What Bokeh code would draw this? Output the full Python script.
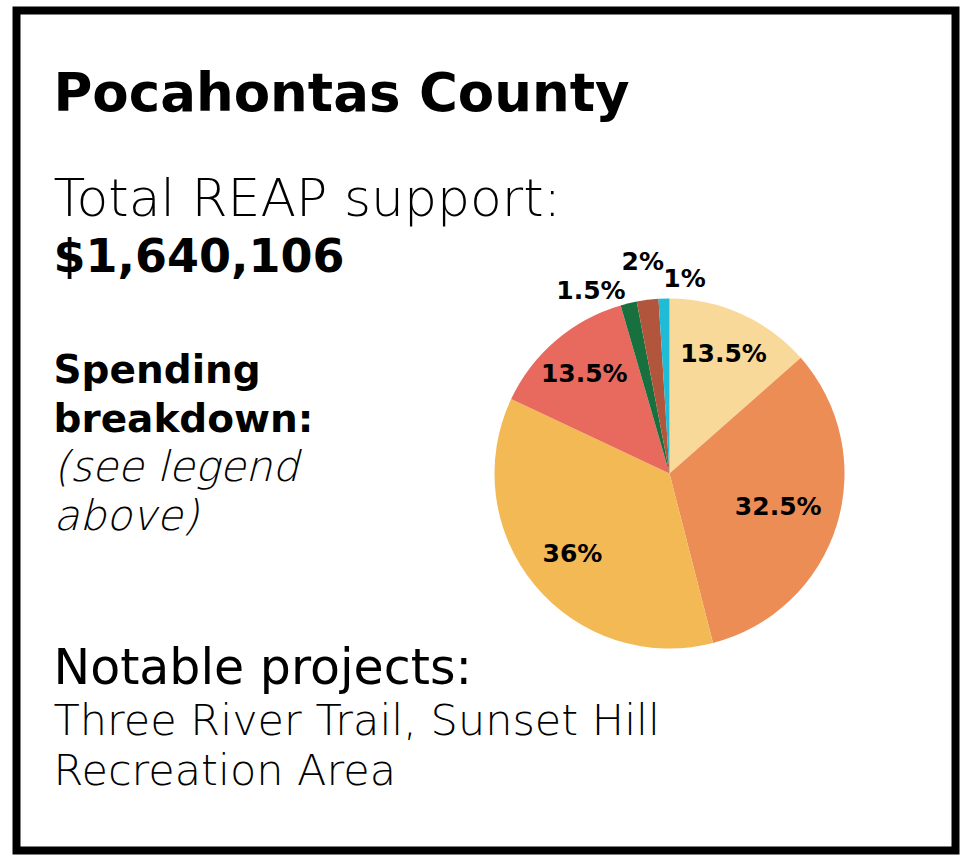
import math
from bokeh.plotting import figure
from bokeh.models import Range1d, ColumnDataSource
from bokeh.core.properties import value
from bokeh.embed import file_html
from bokeh.resources import INLINE

# ---- data ----
county = "Pocahontas County"
total_label = "Total REAP support:"
total_value = "$1,640,106"
slice_pct = [13.5, 32.5, 36.0, 13.5, 1.5, 2.0, 1.0]
slice_labels = ["13.5%", "32.5%", "36%", "13.5%", "1.5%", "2%", "1%"]
slice_colors = ["#F9D99A", "#EC8D55", "#F2B955", "#E86A5F", "#19703F", "#B1553C", "#1FBBD7"]
projects_lines = ["Three River Trail, Sunset Hill", "Recreation Area"]

# ---- styling of labels (radius as fraction of pie radius, alignment) ----
label_r = [0.75, 0.65, 0.72, 0.75, 1.075, 1.22, 1.115]
label_align = ["center", "center", "center", "center", "right", "center", "left"]

W, H = 960, 859
FONT = "DejaVu Sans"
LIGHT = "'DejaVu Sans Light', 'DejaVu Sans'"

p = figure(width=W, height=H, output_backend="svg", toolbar_location=None,
           x_range=Range1d(0, W), y_range=Range1d(0, H), min_border=0)
p.axis.visible = False
p.grid.visible = False
p.outline_line_color = None
p.background_fill_color = "white"
p.border_fill_color = "white"

def Y(ref_y):
    return H - ref_y

def X(ref_x):
    return ref_x

# frame
p.quad(left=[X(16)], right=[X(955)], bottom=[Y(850)], top=[Y(10)],
       fill_color=None, line_color="black", line_width=8, line_join="miter")

# pie
cx, cy, R = X(669), Y(473), 175
total = sum(slice_pct)
cum = 0.0
starts, ends, lx, ly = [], [], [], []
for v, fr in zip(slice_pct, label_r):
    a0 = cum / total
    cum += v
    a1 = cum / total
    starts.append(math.pi / 2 - 2 * math.pi * a0)
    ends.append(math.pi / 2 - 2 * math.pi * a1)
    mid = 2 * math.pi * (a0 + a1) / 2
    lx.append(cx + fr * R * math.sin(mid))
    ly.append(cy + fr * R * math.cos(mid))

src = ColumnDataSource(dict(start=starts, end=ends, color=slice_colors,
                            lx=lx, ly=ly, label=slice_labels, align=label_align))
p.wedge(x=cx, y=cy, radius=R, start_angle="start", end_angle="end",
        direction="clock", fill_color="color", line_color=None, source=src)
p.text(x="lx", y="ly", text="label", text_align="align", text_baseline="middle",
       text_font=value(FONT), text_font_style="bold", text_font_size="25px",
       text_color="black", source=src)

def txt(x, baseline_ref, s, size, style="normal", font=FONT):
    # baseline correction observed for the alphabetic anchor
    y = Y(baseline_ref) + 0.4 * size
    p.text(x=[x], y=[y], text=[s], text_font=value(font), text_font_size=f"{size}px",
           text_font_style=style, text_color="black", text_align="left",
           text_baseline="alphabetic")

LX = X(53)
txt(LX, 113, county, 53, "bold")
txt(LX, 218, total_label, 52, font=LIGHT)
txt(LX, 274, total_value, 46, "bold")
txt(LX, 385, "Spending", 39, "bold")
txt(LX, 434, "breakdown:", 39, "bold")
txt(LX, 483, "(see legend", 42, "italic", font=LIGHT)
txt(LX, 532, "above)", 42, "italic", font=LIGHT)
txt(LX, 687, "Notable projects:", 49)
txt(LX, 737, projects_lines[0], 43, font=LIGHT)
txt(LX, 787, projects_lines[1], 43, font=LIGHT)

open("out.html", "w").write(file_html(p, INLINE))
